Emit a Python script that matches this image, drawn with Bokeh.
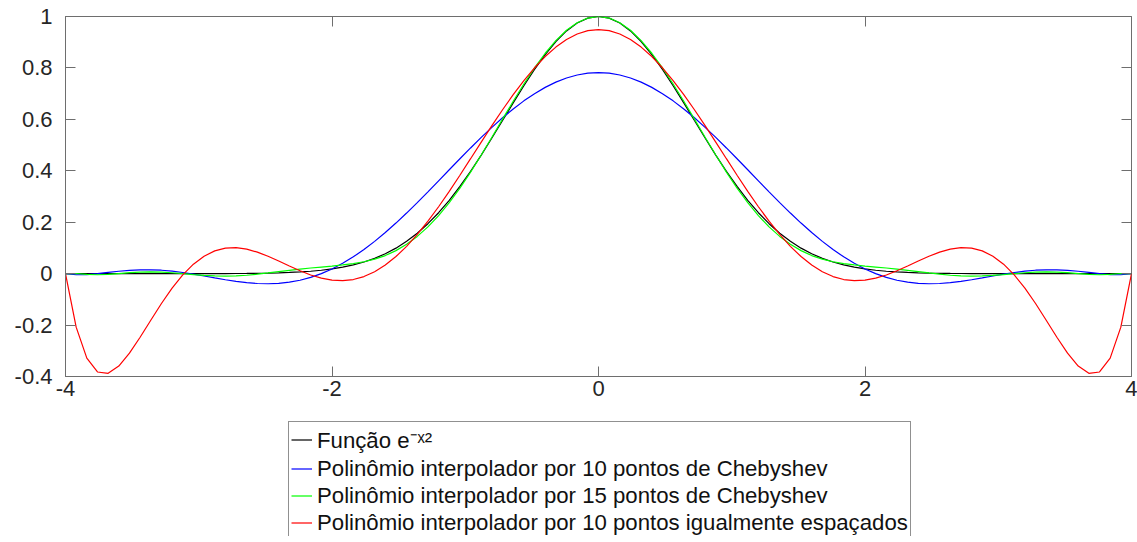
from bokeh.plotting import figure
from bokeh.layouts import column
from bokeh.models import Range1d, LinearAxis, FixedTicker, Legend, LegendItem
from bokeh.embed import file_html
from bokeh.resources import INLINE

# Sample positions (step 0.08 on [-4, 4])
x = [-4.0, -3.92, -3.84, -3.76, -3.68, -3.6, -3.52, -3.44, -3.36, -3.28,
     -3.2, -3.12, -3.04, -2.96, -2.88, -2.8, -2.72, -2.64, -2.56, -2.48,
     -2.4, -2.32, -2.24, -2.16, -2.08, -2.0, -1.92, -1.84, -1.76, -1.68,
     -1.6, -1.52, -1.44, -1.36, -1.28, -1.2, -1.12, -1.04, -0.96, -0.88,
     -0.8, -0.72, -0.64, -0.56, -0.48, -0.4, -0.32, -0.24, -0.16, -0.08,
     0.0,
     0.08, 0.16, 0.24, 0.32, 0.4, 0.48, 0.56, 0.64, 0.72, 0.8,
     0.88, 0.96, 1.04, 1.12, 1.2, 1.28, 1.36, 1.44, 1.52, 1.6,
     1.68, 1.76, 1.84, 1.92, 2.0, 2.08, 2.16, 2.24, 2.32, 2.4,
     2.48, 2.56, 2.64, 2.72, 2.8, 2.88, 2.96, 3.04, 3.12, 3.2,
     3.28, 3.36, 3.44, 3.52, 3.6, 3.68, 3.76, 3.84, 3.92, 4.0]

# e^(-x^2)
gauss = [0.0, 0.0, 0.0, 0.0, 0.0, 0.0, 0.0, 0.0, 0.0, 0.0,
         0.0, 0.0001, 0.0001, 0.0002, 0.0003, 0.0004, 0.0006, 0.0009, 0.0014, 0.0021,
         0.0032, 0.0046, 0.0066, 0.0094, 0.0132, 0.0183, 0.0251, 0.0339, 0.0452, 0.0595,
         0.0773, 0.0992, 0.1257, 0.1573, 0.1943, 0.2369, 0.2852, 0.3391, 0.3979, 0.4610,
         0.5273, 0.5955, 0.6639, 0.7308, 0.7942, 0.8521, 0.9027, 0.9440, 0.9747, 0.9936,
         1.0,
         0.9936, 0.9747, 0.9440, 0.9027, 0.8521, 0.7942, 0.7308, 0.6639, 0.5955, 0.5273,
         0.4610, 0.3979, 0.3391, 0.2852, 0.2369, 0.1943, 0.1573, 0.1257, 0.0992, 0.0773,
         0.0595, 0.0452, 0.0339, 0.0251, 0.0183, 0.0132, 0.0094, 0.0066, 0.0046, 0.0032,
         0.0021, 0.0014, 0.0009, 0.0006, 0.0004, 0.0003, 0.0002, 0.0001, 0.0001, 0.0,
         0.0, 0.0, 0.0, 0.0, 0.0, 0.0, 0.0, 0.0, 0.0, 0.0]

# Interpolating polynomial, 10 Chebyshev points
cheb10 = [0.0, -0.0043, -0.0037, -0.0002, 0.0048, 0.0094, 0.0129, 0.0150, 0.0150, 0.0133,
          0.0097, 0.0044, -0.0019, -0.0091, -0.0165, -0.0237, -0.0300, -0.0351, -0.0384, -0.0394,
          -0.0378, -0.0333, -0.0256, -0.0145, 0.0001, 0.0183, 0.0401, 0.0653, 0.0938, 0.1254,
          0.1598, 0.1967, 0.2356, 0.2763, 0.3182, 0.3610, 0.4040, 0.4468, 0.4888, 0.5297,
          0.5690, 0.6060, 0.6405, 0.6719, 0.7000, 0.7244, 0.7447, 0.7608, 0.7724, 0.7795,
          0.7818,
          0.7795, 0.7724, 0.7608, 0.7447, 0.7244, 0.7000, 0.6719, 0.6405, 0.6060, 0.5690,
          0.5297, 0.4888, 0.4468, 0.4040, 0.3610, 0.3182, 0.2763, 0.2356, 0.1967, 0.1598,
          0.1254, 0.0938, 0.0653, 0.0401, 0.0183, 0.0001, -0.0145, -0.0256, -0.0333, -0.0378,
          -0.0394, -0.0384, -0.0351, -0.0300, -0.0237, -0.0165, -0.0091, -0.0019, 0.0044, 0.0097,
          0.0133, 0.0150, 0.0150, 0.0129, 0.0094, 0.0048, -0.0002, -0.0037, -0.0043, 0.0]

# Interpolating polynomial, 15 Chebyshev points
cheb15 = [0.0, 0.0006, -0.0030, -0.0043, -0.0030, 0.0003, 0.0037, 0.0060, 0.0069, 0.0062,
          0.0035, -0.0003, -0.0041, -0.0070, -0.0090, -0.0096, -0.0089, -0.0063, -0.0021, 0.0029,
          0.0082, 0.0130, 0.0176, 0.0219, 0.0257, 0.0295, 0.0338, 0.0391, 0.0462, 0.0562,
          0.0703, 0.0895, 0.1142, 0.1448, 0.1818, 0.2259, 0.2764, 0.3328, 0.3946, 0.4614,
          0.5306, 0.6007, 0.6702, 0.7374, 0.8003, 0.8571, 0.9064, 0.9465, 0.9758, 0.9939,
          1.0,
          0.9939, 0.9758, 0.9465, 0.9064, 0.8571, 0.8003, 0.7374, 0.6702, 0.6007, 0.5306,
          0.4614, 0.3946, 0.3328, 0.2764, 0.2259, 0.1818, 0.1448, 0.1142, 0.0895, 0.0703,
          0.0562, 0.0462, 0.0391, 0.0338, 0.0295, 0.0257, 0.0219, 0.0176, 0.0130, 0.0082,
          0.0029, -0.0021, -0.0063, -0.0089, -0.0096, -0.0090, -0.0070, -0.0041, -0.0003, 0.0035,
          0.0062, 0.0069, 0.0060, 0.0037, 0.0003, -0.0030, -0.0043, -0.0030, 0.0006, 0.0]

# Interpolating polynomial, 10 equally spaced points
equi10 = [0.0, -0.2081, -0.3286, -0.3824, -0.3877, -0.3594, -0.3094, -0.2474, -0.1812, -0.1161,
          -0.0565, -0.0050, 0.0368, 0.0679, 0.0885, 0.0992, 0.1010, 0.0952, 0.0835, 0.0675,
          0.0489, 0.0296, 0.0110, -0.0052, -0.0177, -0.0254, -0.0274, -0.0229, -0.0114, 0.0074,
          0.0334, 0.0665, 0.1063, 0.1524, 0.2040, 0.2602, 0.3202, 0.3828, 0.4470, 0.5115,
          0.5754, 0.6373, 0.6961, 0.7509, 0.8006, 0.8442, 0.8811, 0.9104, 0.9318, 0.9448,
          0.9491,
          0.9448, 0.9318, 0.9104, 0.8811, 0.8442, 0.8006, 0.7509, 0.6961, 0.6373, 0.5754,
          0.5115, 0.4470, 0.3828, 0.3202, 0.2602, 0.2040, 0.1524, 0.1063, 0.0665, 0.0334,
          0.0074, -0.0114, -0.0229, -0.0274, -0.0254, -0.0177, -0.0052, 0.0110, 0.0296, 0.0489,
          0.0675, 0.0835, 0.0952, 0.1010, 0.0992, 0.0885, 0.0679, 0.0368, -0.0050, -0.0565,
          -0.1161, -0.1812, -0.2474, -0.3094, -0.3594, -0.3877, -0.3824, -0.3286, -0.2081, 0.0]

x_ticks = [-4, -2, 0, 2, 4]
x_tick_labels = ["-4", "-2", "0", "2", "4"]
y_ticks = [-0.4, -0.2, 0, 0.2, 0.4, 0.6, 0.8, 1]
y_tick_labels = ["-0.4", "-0.2", "0", "0.2", "0.4", "0.6", "0.8", "1"]

series_labels = [
    "Função e\u207b\u02e3\u00b2",
    "Polinômio interpolador por 10 pontos de Chebyshev",
    "Polinômio interpolador por 15 pontos de Chebyshev",
    "Polinômio interpolador por 10 pontos igualmente espaçados",
]
series_colors = ["#000000", "#0000ff", "#00ff00", "#ff0000"]
series_values = [gauss, cheb10, cheb15, equi10]

FONT = "Liberation Sans"
AXIS_COLOR = "#6e6e6e"
TEXT_COLOR = "#262626"
LINE_WIDTH = 1.2

# ---- main chart -------------------------------------------------------------
p = figure(width=1137, height=408, frame_width=1066, frame_height=360,
           x_range=Range1d(-4, 4), y_range=Range1d(-0.4, 1),
           output_backend="svg", toolbar_location=None,
           min_border_left=65, min_border_right=6,
           min_border_top=16, min_border_bottom=32)
p.background_fill_color = "white"
p.border_fill_color = "white"
p.outline_line_color = AXIS_COLOR
p.outline_line_width = 1
p.xgrid.visible = False
p.ygrid.visible = False


def style_axis(ax, ticks, labels, standoff, show_labels=True):
    ax.ticker = FixedTicker(ticks=ticks)
    ax.major_label_overrides = dict(zip(ticks, labels))
    ax.major_tick_in = 10
    ax.major_tick_out = 0
    ax.minor_tick_line_color = None
    ax.major_tick_line_color = AXIS_COLOR
    ax.major_tick_line_width = 1
    ax.axis_line_color = AXIS_COLOR
    ax.major_label_standoff = standoff
    ax.major_label_text_font = FONT
    ax.major_label_text_color = TEXT_COLOR
    ax.major_label_text_font_size = "22px" if show_labels else "0px"


style_axis(p.xaxis[0], x_ticks, x_tick_labels, 4)
style_axis(p.yaxis[0], y_ticks, y_tick_labels, 13)

# Mirrored inward ticks on the top and right edges of the box
top_axis = LinearAxis()
style_axis(top_axis, x_ticks, ["" for _ in x_ticks], 0, show_labels=False)
top_axis.axis_line_color = None
p.add_layout(top_axis, "above")

right_axis = LinearAxis()
style_axis(right_axis, y_ticks, ["" for _ in y_ticks], 0, show_labels=False)
right_axis.axis_line_color = None
p.add_layout(right_axis, "right")

for ys, color in zip(series_values, series_colors):
    p.line(x, ys, line_color=color, line_width=LINE_WIDTH)

# ---- legend strip under the chart -----------------------------------------
# The strip's own view window lies above the data, so its series renderers only
# supply the legend keys.
lg = figure(width=1137, height=128, x_range=Range1d(-4, 4), y_range=Range1d(5, 6),
            output_backend="svg", toolbar_location=None,
            x_axis_location=None, y_axis_location=None, min_border=0)
lg.outline_line_color = None
lg.background_fill_color = "white"
lg.border_fill_color = "white"
lg.grid.visible = False

keys = [lg.line(x, ys, line_color=c, line_width=LINE_WIDTH)
        for ys, c in zip(series_values, series_colors)]
items = [LegendItem(label=lab, renderers=[r]) for lab, r in zip(series_labels, keys)]
legend = Legend(items=items, location=(223, -3), orientation="vertical",
                label_text_font=FONT, label_text_font_size="22.2px",
                label_text_color="#111111",
                glyph_width=21, glyph_height=27, label_height=27,
                label_standoff=5, padding=2, spacing=0, margin=0,
                border_line_color="#222222", border_line_width=1,
                background_fill_color="white", background_fill_alpha=1.0)
lg.add_layout(legend)

open("out.html", "w").write(file_html(column(p, lg, spacing=0), INLINE))
